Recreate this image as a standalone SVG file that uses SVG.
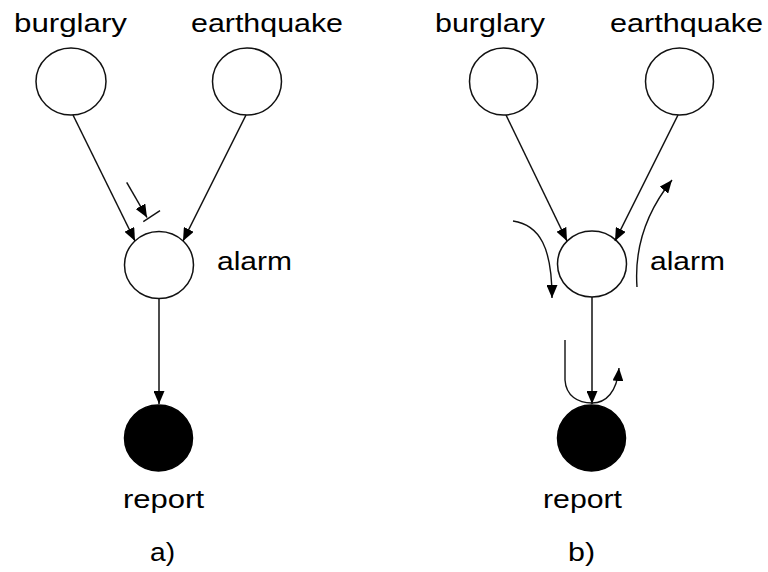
<svg xmlns="http://www.w3.org/2000/svg" width="768" height="572" viewBox="0 0 768 572">
  <defs>
    <marker id="arrow" viewBox="0 0 13 11" refX="13" refY="5.5" markerWidth="13" markerHeight="11" markerUnits="userSpaceOnUse" orient="auto">
      <path d="M0,0 L13,5.5 L0,11 z" fill="#000"/>
    </marker>
    <style>
      .node { fill: #fff; stroke: #111; stroke-width: 1.5; }
      .obs { fill: #000; stroke: #000; stroke-width: 1.5; }
      .lbl { font-family: "Liberation Sans", Arial, sans-serif; font-size: 26px; fill: #000; }
      .edge { fill: none; stroke: #111; stroke-width: 1.5; marker-end: url(#arrow); }
      .flow { fill: none; stroke: #111; stroke-width: 1.4; }
      .flowA { fill: none; stroke: #111; stroke-width: 1.4; marker-end: url(#arrow); }
    </style>
  </defs>

  <!-- panel a: evidence on report -->
  <g id="a-burglary">
    <ellipse class="node" cx="71" cy="81.5" rx="35" ry="33.5"/>
    <text class="lbl" x="14" y="32" textLength="113" lengthAdjust="spacingAndGlyphs">burglary</text>
  </g>
  <g id="a-earthquake">
    <ellipse class="node" cx="247" cy="81.5" rx="34.5" ry="33.5"/>
    <text class="lbl" x="191" y="32" textLength="152" lengthAdjust="spacingAndGlyphs">earthquake</text>
  </g>
  <g id="a-alarm">
    <ellipse class="node" cx="159" cy="265" rx="34.5" ry="33.5"/>
    <text class="lbl" x="217" y="270" textLength="75" lengthAdjust="spacingAndGlyphs">alarm</text>
  </g>
  <g id="a-report">
    <ellipse class="obs" cx="158.5" cy="438" rx="34" ry="33"/>
    <text class="lbl" x="123" y="508" textLength="81" lengthAdjust="spacingAndGlyphs">report</text>
  </g>
  <text id="a-caption" class="lbl" x="150" y="561" textLength="25" lengthAdjust="spacingAndGlyphs">a)</text>

  <!-- panel b: flow between the causes -->
  <g id="b-burglary">
    <ellipse class="node" cx="503.5" cy="81.5" rx="34" ry="33.5"/>
    <text class="lbl" x="435" y="32" textLength="110" lengthAdjust="spacingAndGlyphs">burglary</text>
  </g>
  <g id="b-earthquake">
    <ellipse class="node" cx="679.5" cy="81.5" rx="34" ry="33.5"/>
    <text class="lbl" x="610" y="32" textLength="153" lengthAdjust="spacingAndGlyphs">earthquake</text>
  </g>
  <g id="b-alarm">
    <ellipse class="node" cx="592" cy="264" rx="34.5" ry="33"/>
    <text class="lbl" x="650" y="270" textLength="75" lengthAdjust="spacingAndGlyphs">alarm</text>
  </g>
  <g id="b-report">
    <ellipse class="obs" cx="591.5" cy="438" rx="34" ry="33"/>
    <text class="lbl" x="543" y="508" textLength="79" lengthAdjust="spacingAndGlyphs">report</text>
  </g>
  <text id="b-caption" class="lbl" x="568" y="561" textLength="27" lengthAdjust="spacingAndGlyphs">b)</text>

  <g id="connectors">
    <!-- panel a edges -->
    <line class="edge" x1="73" y1="115" x2="135" y2="241"/>
    <line class="edge" x1="246" y1="115" x2="183" y2="241"/>
    <line class="edge" x1="159" y1="298.5" x2="159" y2="404"/>
    <!-- blocked path -->
    <line class="edge" x1="126.7" y1="182.3" x2="147" y2="217.5"/>
    <line class="flow" x1="143.3" y1="221.7" x2="160" y2="210.7"/>

    <!-- panel b edges -->
    <line class="edge" x1="506" y1="115" x2="567" y2="241"/>
    <line class="edge" x1="678" y1="115" x2="615" y2="241"/>
    <line class="edge" x1="592" y1="297" x2="592" y2="404"/>
    <!-- flow arrows -->
    <path class="flowA" d="M513,221 C540,225 552,248 552,298"/>
    <path class="flowA" d="M637,287 C634,245 648,210 672,180"/>
    <path class="flowA" d="M565,340 L565,380 C566,396 578,403 592,403 C606,403 617,392 619,368"/>
  </g>
</svg>
